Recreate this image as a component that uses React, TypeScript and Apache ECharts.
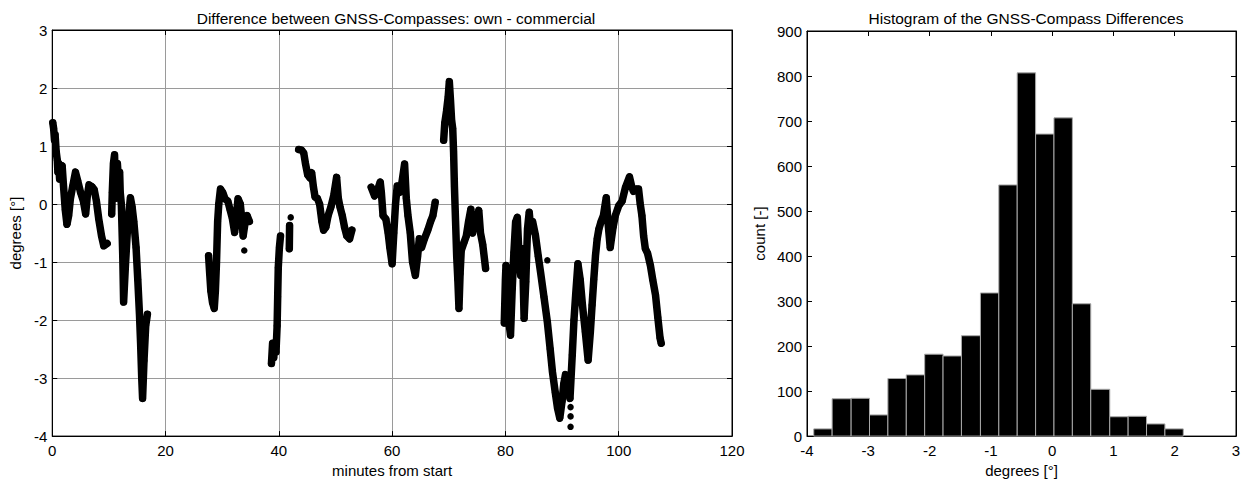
import React, { useEffect, useRef } from "react";
import * as echarts from "echarts";

// ---- Left chart: difference trace (minutes, degrees), gaps between segments ----
const seg1: number[][] = [
  [0.1, 1.4], [0.25, 1.3], [0.4, 1.1], [0.5, 1.2], [0.7, 0.9], [0.9, 0.75], [1.0, 0.55],
  [1.15, 0.7], [1.3, 0.43], [1.5, 0.6], [1.75, 0.66], [2.0, 0.3], [2.3, -0.1], [2.6, -0.35],
  [2.9, -0.2], [3.2, 0.09], [3.6, 0.3], [4.1, 0.55], [4.5, 0.4], [5.0, 0.2], [5.5, 0.05],
  [5.9, -0.17], [6.2, 0.15], [6.5, 0.33], [7.0, 0.3], [7.4, 0.25], [7.8, 0.05], [8.2, -0.25],
  [8.7, -0.55], [9.1, -0.72], [9.7, -0.68],
];
const seg2: number[][] = [
  [10.5, -0.17], [10.6, 0.2], [10.8, 0.7], [11.0, 0.85], [11.1, 0.5], [11.2, 0.1], [11.4, 0.3],
  [11.5, 0.7], [11.7, 0.4], [11.9, 0.55], [12.0, 0.2], [12.2, 0.0], [12.45, -0.9], [12.6, -1.69],
  [12.9, -1.1], [13.3, -0.4], [13.8, 0.11], [14.1, -0.05], [14.4, -0.3], [14.8, -0.75],
  [15.1, -1.3], [15.4, -1.9], [15.6, -2.4], [15.8, -3.0], [15.95, -3.35], [16.2, -2.7],
  [16.5, -2.1], [16.8, -1.9],
];
const seg3: number[][] = [
  [27.6, -0.89], [27.8, -1.2], [28.0, -1.5], [28.3, -1.7], [28.6, -1.8], [28.8, -1.5],
  [29.0, -1.0], [29.2, -0.3], [29.4, 0.0], [29.7, 0.26], [30.1, 0.2], [30.5, 0.09], [31.0, 0.05],
  [31.4, -0.1], [31.8, -0.25], [32.2, -0.49], [32.5, -0.2], [32.8, 0.09], [33.2, 0.0],
  [33.5, -0.3], [33.7, -0.55], [34.0, -0.35], [34.4, -0.2], [34.8, -0.3],
];
const seg4: number[][] = [
  [38.7, -2.75], [38.9, -2.4], [39.1, -2.65], [39.3, -2.4], [39.5, -2.55], [39.7, -2.1],
  [39.8, -1.6], [39.9, -1.1], [40.1, -0.75], [40.3, -0.55],
];
const seg5: number[][] = [[41.85, -0.77], [41.9, -0.37]];
const seg6: number[][] = [
  [43.5, 0.94], [44.0, 0.93], [44.4, 0.88], [44.7, 0.7], [45.1, 0.5], [45.5, 0.45], [45.8, 0.54],
  [46.1, 0.3], [46.4, 0.12], [46.8, 0.1], [47.2, 0.0], [47.6, -0.3], [47.9, -0.45], [48.3, -0.4],
  [48.7, -0.2], [49.2, -0.05], [49.7, 0.15], [50.2, 0.46], [50.5, 0.1], [50.8, -0.05],
  [51.2, -0.2], [51.6, -0.4], [52.0, -0.55], [52.5, -0.6], [52.9, -0.45],
];
const seg7: number[][] = [
  [56.3, 0.29], [56.9, 0.14], [57.5, 0.26], [57.9, 0.38], [58.1, 0.2], [58.4, -0.2], [58.9, -0.26],
  [59.3, -0.5], [59.6, -0.75], [60.0, -1.03], [60.3, -0.5], [60.6, 0.0], [60.9, 0.31], [61.3, 0.2],
  [61.7, 0.35], [62.2, 0.69], [62.5, 0.1], [62.8, -0.2], [63.2, -0.5], [63.6, -1.0], [64.1, -1.23],
  [64.5, -0.9], [64.8, -0.6], [65.2, -0.75], [65.7, -0.6], [66.3, -0.45], [66.8, -0.3],
  [67.2, -0.2], [67.6, 0.03],
];
const seg8: number[][] = [
  [69.1, 1.1], [69.3, 1.4], [69.6, 1.6], [69.9, 1.85], [70.1, 2.11], [70.3, 1.8], [70.5, 1.45],
  [70.7, 1.3], [70.85, 0.9], [71.0, 0.3], [71.2, -0.3], [71.4, -0.9], [71.6, -1.3], [71.8, -1.8],
  [72.0, -1.2], [72.2, -0.8], [72.7, -0.66], [73.1, -0.55], [73.5, -0.3], [73.9, -0.09],
  [74.2, -0.5], [74.6, -0.3], [75.0, -0.25], [75.3, -0.11], [75.6, -0.5], [76.0, -0.7],
  [76.5, -1.11],
];
const seg9: number[][] = [
  [79.8, -2.05], [80.0, -1.3], [80.1, -1.06], [80.4, -1.74], [80.7, -2.1], [80.9, -2.26],
  [81.2, -1.46], [81.5, -0.83], [81.8, -0.31], [82.1, -0.23], [82.4, -0.89], [82.7, -1.23],
  [83.0, -0.77], [83.3, -1.97], [83.6, -1.34], [83.9, -0.43], [84.2, -0.14], [84.5, -0.46],
  [84.8, -0.3], [85.3, -0.54], [85.8, -0.9], [86.2, -1.17], [86.8, -1.6], [87.4, -2.03],
  [87.9, -2.5], [88.3, -2.89], [88.8, -3.25], [89.2, -3.52], [89.6, -3.69], [90.0, -3.4],
  [90.3, -3.1], [90.6, -2.94], [91.0, -3.1], [91.4, -3.35], [91.8, -2.6], [92.1, -2.0],
  [92.4, -1.57], [92.8, -1.03], [93.2, -1.3], [93.6, -1.74], [94.1, -2.2], [94.6, -2.69],
  [95.0, -2.2], [95.3, -1.74], [95.6, -1.3], [95.9, -0.89], [96.2, -0.6], [96.5, -0.43],
  [96.9, -0.3], [97.3, -0.2], [97.8, 0.11], [98.1, -0.3], [98.5, -0.75], [99.0, -0.4],
  [99.4, -0.2], [100.0, -0.03], [100.6, 0.05], [101.2, 0.29], [101.9, 0.47], [102.3, 0.3],
  [102.6, 0.22], [103.1, 0.26], [103.5, 0.26], [103.8, 0.0], [104.1, -0.2], [104.4, -0.55],
  [104.7, -0.77], [105.1, -0.85], [105.6, -1.06], [106.0, -1.3], [106.5, -1.57], [106.9, -1.95],
  [107.3, -2.31], [107.5, -2.4],
];
const isolatedPoints: number[][] = [
  [33.9, -0.8], [42.1, -0.23], [87.4, -0.97], [91.5, -3.5], [91.5, -3.66], [91.5, -3.84],
];
const traceSegments = [seg1, seg2, seg3, seg4, seg5, seg6, seg7, seg8, seg9];

// ---- Right chart: histogram ----
const binEdges: number[] = [
  -3.89, -3.59, -3.28, -2.98, -2.68, -2.38, -2.08, -1.78, -1.48, -1.17, -0.87,
  -0.57, -0.27, 0.03, 0.33, 0.63, 0.94, 1.24, 1.54, 1.84, 2.14,
];
const binCounts: number[] = [
  16, 83, 84, 47, 128, 136, 182, 178, 223, 318, 558, 807, 671, 707, 294, 104, 43, 44, 27, 16,
];

const FONT = "'Liberation Sans', Arial, Helvetica, sans-serif";
const txt = { color: "#000", fontFamily: FONT, fontSize: 15 };
const GRIDC = "#9a9a9a";

function boxAxes(gridIndex: number, xmin: number, xmax: number, xint: number, ymin: number, ymax: number, yint: number, grid: boolean, xName: string, yName: string, yGap: number) {
  const line = { show: true, onZero: false, lineStyle: { color: "#000", width: 1 } };
  const tick = { show: true, inside: true, length: 5, lineStyle: { color: "#000" } };
  const xAxes = [
    {
      gridIndex, type: "value", min: xmin, max: xmax, interval: xint, position: "bottom",
      axisLine: line, axisTick: tick,
      axisLabel: { ...txt, margin: 7 },
      splitLine: { show: grid, lineStyle: { color: GRIDC, width: 1 } },
      name: xName, nameLocation: "middle", nameGap: 26, nameTextStyle: { ...txt },
    },
    {
      gridIndex, type: "value", min: xmin, max: xmax, interval: xint, position: "top",
      axisLine: line, axisTick: tick, axisLabel: { show: false }, splitLine: { show: false },
    },
  ];
  const yAxes = [
    {
      gridIndex, type: "value", min: ymin, max: ymax, interval: yint, position: "left",
      axisLine: line, axisTick: tick,
      axisLabel: { ...txt, margin: 5 },
      splitLine: { show: grid, lineStyle: { color: GRIDC, width: 1 } },
      name: yName, nameLocation: "middle", nameGap: yGap, nameTextStyle: { ...txt },
    },
    {
      gridIndex, type: "value", min: ymin, max: ymax, interval: yint, position: "right",
      axisLine: line, axisTick: tick, axisLabel: { show: false }, splitLine: { show: false },
    },
  ];
  return { xAxes, yAxes };
}

export default function App() {
  const ref = useRef<HTMLDivElement>(null);
  useEffect(() => {
    if (!ref.current) return;
    const chart = echarts.init(ref.current, null, { renderer: "svg" });
    const a = boxAxes(0, 0, 120, 20, -4, 3, 1, true, "minutes from start", "degrees [°]", 28);
    const b = boxAxes(1, -4, 3, 1, 0, 900, 100, false, "degrees [°]", "count [-]", 40);
    const histData = binCounts.map((c, i) => [binEdges[i], binEdges[i + 1], c]);

    const lineSeries = traceSegments.map((seg) => ({
      type: "line",
      xAxisIndex: 0,
      yAxisIndex: 0,
      data: seg,
      symbol: "circle",
      symbolSize: 7,
      showSymbol: true,
      itemStyle: { color: "#000", opacity: 1 },
      lineStyle: { color: "#000", width: 7.5, cap: "round", join: "round", opacity: 1 },
      silent: true,
    }));

    chart.setOption({
      animation: false,
      backgroundColor: "#fff",
      title: [
        {
          text: "Difference between GNSS-Compasses: own - commercial",
          left: 391, top: 5, textAlign: "center",
          textStyle: { ...txt, fontSize: 15.5, fontWeight: "normal" },
        },
        {
          text: "Histogram of the GNSS-Compass Differences",
          left: 1021, top: 5, textAlign: "center",
          textStyle: { ...txt, fontSize: 15.5, fontWeight: "normal" },
        },
      ],
      grid: [
        { left: 50, top: 30, width: 682, height: 408, show: true, borderColor: "#000", borderWidth: 1, backgroundColor: "#fff" },
        { left: 807, top: 31, width: 429, height: 406, show: true, borderColor: "#000", borderWidth: 1, backgroundColor: "#fff" },
      ],
      xAxis: [...a.xAxes, ...b.xAxes],
      yAxis: [...a.yAxes, ...b.yAxes],
      series: [
        ...lineSeries,
        {
          type: "scatter",
          xAxisIndex: 0,
          yAxisIndex: 0,
          data: isolatedPoints,
          symbol: "circle",
          symbolSize: 6.5,
          itemStyle: { color: "#000", opacity: 1 },
          silent: true,
        },
        {
          type: "custom",
          xAxisIndex: 2,
          yAxisIndex: 2,
          data: histData,
          encode: { x: [0, 1], y: 2 },
          renderItem: (params: any, api: any) => {
            const p0 = api.coord([api.value(0), api.value(2)]);
            const p1 = api.coord([api.value(1), 0]);
            return {
              type: "rect",
              shape: { x: p0[0], y: p0[1], width: p1[0] - p0[0], height: p1[1] - p0[1] },
              style: { fill: "#000", stroke: "#a8a8a8", lineWidth: 1 },
            };
          },
          silent: true,
        },
      ],
    });
    return () => chart.dispose();
  }, []);
  return (
    <div
      ref={ref}
      style={{ position: "fixed", left: 0, top: 0, width: 1244, height: 483, background: "#fff" }}
    />
  );
}
